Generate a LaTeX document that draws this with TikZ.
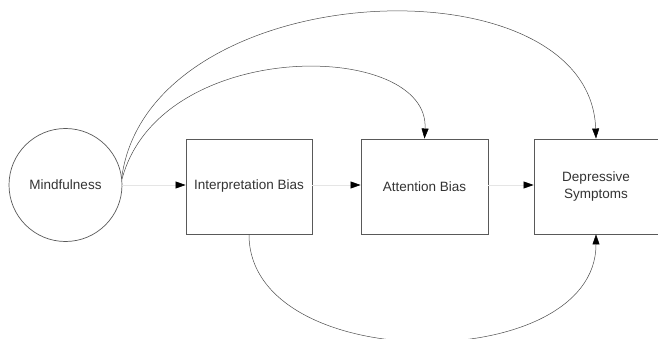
\documentclass[tikz,border=0pt]{standalone}
\usepackage{fontspec}
\setmainfont{Liberation Sans}
\usetikzlibrary{arrows.meta}
\begin{document}
\begin{tikzpicture}[x=1pt,y=-1pt,
  lbl/.style={font=\fontsize{13.5}{17}\selectfont, text=black!80, align=center},
  boxnode/.style={lbl, draw=black!65, line width=0.9pt, minimum width=126pt, minimum height=95pt, inner sep=0pt},
  circnode/.style={lbl, draw=black!65, line width=0.7pt, circle, minimum size=113pt, inner sep=0pt},
  tip/.style={-{Triangle[length=10pt,width=7pt,color=black]}},
  straightlink/.style={tip, draw=black!10, line width=0.6pt},
  curvedlink/.style={tip, draw=black!70, line width=0.5pt}]
\useasboundingbox (0,0) rectangle (658,339);

% nodes
\node[circnode] (m) at (65.5,185) {Mindfulness};
\node[boxnode] (ip) at (249,186.5) {Interpretation Bias};
\node[boxnode, minimum width=127pt] (ab) at (424.5,186.5) {Attention Bias};
\node[boxnode, minimum width=124pt] (ds) at (596,186.5) {Depressive\\Symptoms};

% chain of direct paths
\draw[straightlink] (m.east) -- (ip.west |- m.east);
\draw[straightlink] (ip.east |- m.east) -- (ab.west |- m.east);
\draw[straightlink] (ab.east |- m.east) -- (ds.west |- m.east);

% curved paths
\draw[curvedlink] (m.8) .. controls (150,-26) and (590,-44) .. (ds.north);
\draw[curvedlink] (m.6) .. controls (160,36) and (430,40) .. (ab.north);
\draw[curvedlink] (ip.south) .. controls (249,376) and (596,376) .. (ds.south);
\end{tikzpicture}
\end{document}
